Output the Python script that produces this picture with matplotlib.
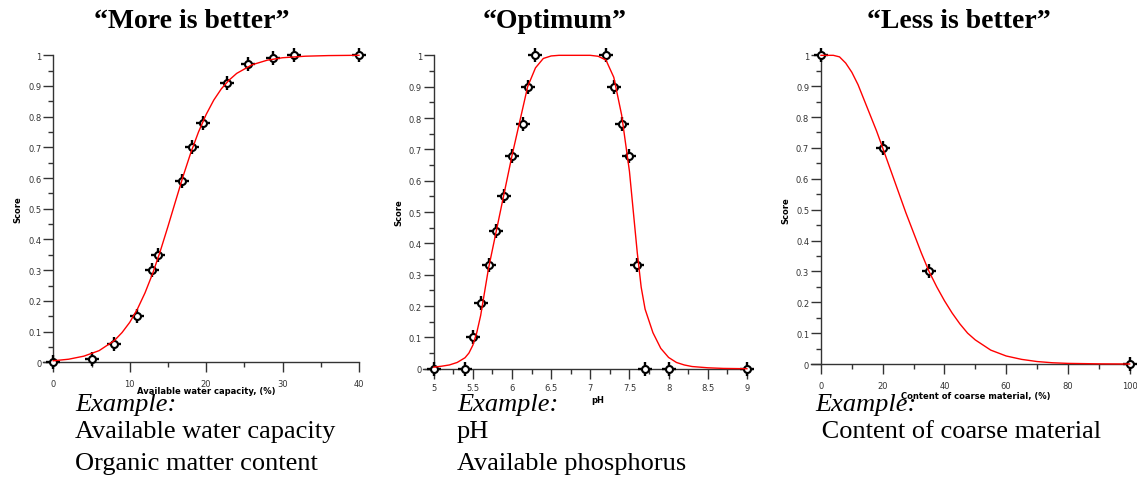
import matplotlib.pyplot as plt
from matplotlib.ticker import MultipleLocator, FuncFormatter

# "More is better" - available water capacity
awc_x = [0, 5.0, 8.0, 10.9, 12.9, 13.7, 16.8, 18.2, 19.6, 22.7, 25.5, 28.8, 31.5, 40]
awc_y = [0, 0.01, 0.06, 0.15, 0.30, 0.35, 0.59, 0.70, 0.78, 0.91, 0.97, 0.99, 1.0, 1.0]
awc_curve_x = [0, 2, 4, 6, 8, 9, 10, 11, 12, 13, 14, 15, 16, 17, 18, 19, 20,
               21, 22, 23, 24, 26, 28, 30, 33, 36, 40]
awc_curve_y = [0.005, 0.010, 0.020, 0.038, 0.071, 0.097, 0.130, 0.173, 0.226,
               0.289, 0.362, 0.442, 0.525, 0.607, 0.683, 0.750, 0.807, 0.854,
               0.891, 0.919, 0.941, 0.969, 0.984, 0.992, 0.997, 0.999, 1.0]

# "Optimum" - pH
ph_x = [5.0, 5.4, 5.5, 5.6, 5.7, 5.8, 5.9, 6.0, 6.14, 6.2, 6.3,
        7.2, 7.3, 7.4, 7.5, 7.6, 7.7, 8.0, 9.0]
ph_y = [0, 0, 0.10, 0.21, 0.33, 0.44, 0.55, 0.68, 0.78, 0.90, 1.0,
        1.0, 0.90, 0.78, 0.68, 0.33, 0, 0, 0]
ph_curve_x = [5.0, 5.1, 5.2, 5.3, 5.4, 5.45, 5.5, 5.55, 5.6, 5.65, 5.7, 5.8, 5.9,
              6.0, 6.1, 6.2, 6.3, 6.4, 6.5, 6.6, 7.0, 7.1, 7.2, 7.3, 7.4, 7.5,
              7.6, 7.65, 7.7, 7.8, 7.9, 8.0, 8.1, 8.2, 8.3, 8.5, 8.7, 9.0]
ph_curve_y = [0.005, 0.008, 0.012, 0.02, 0.035, 0.05, 0.075, 0.115, 0.17, 0.245,
              0.32, 0.44, 0.56, 0.68, 0.79, 0.90, 0.96, 0.99, 0.998, 1.0, 1.0,
              0.997, 0.985, 0.93, 0.81, 0.63, 0.37, 0.26, 0.19, 0.115, 0.065,
              0.036, 0.02, 0.012, 0.007, 0.003, 0.001, 0.0]

# "Less is better" - content of coarse material
coarse_x = [0, 20, 35, 100]
coarse_y = [1.0, 0.70, 0.30, 0]
coarse_curve_x = [0, 4, 6, 8, 10, 12, 15, 18, 20, 22.5, 25, 27.5, 30, 32.5, 35,
                  37.5, 40, 42.5, 45, 47.5, 50, 55, 60, 65, 70, 75, 80, 90, 100]
coarse_curve_y = [1.0, 1.0, 0.995, 0.975, 0.945, 0.905, 0.83, 0.755, 0.70, 0.63,
                  0.56, 0.49, 0.425, 0.36, 0.30, 0.25, 0.205, 0.165, 0.13, 0.10,
                  0.078, 0.045, 0.026, 0.015, 0.008, 0.004, 0.002, 0.0005, 0.0]

titles = ["\u201cMore is better\u201d", "\u201cOptimum\u201d", "\u201cLess is better\u201d"]
xlabels = ["Available water capacity, (%)", "pH", "Content of coarse material, (%)"]
examples = [["Available water capacity", "Organic matter content"],
            ["pH", "Available phosphorus"],
            [" Content of coarse material"]]

W, H = 1137, 502
fig = plt.figure(figsize=(W / 100, H / 100), dpi=100)


def fmt(v, pos):
    return "%g" % round(v, 3)


def panel(rect, xs, ys, cx, cy, xlim, x0, xmaj, xmin, xpad):
    ax = fig.add_axes(rect)
    ax.plot(cx, cy, color="red", lw=1.0, zorder=5, clip_on=False)
    ax.plot(xs, ys, ls="none", marker="+", ms=10, mew=1.7, color="black",
            zorder=4, clip_on=False)
    ax.plot(xs, ys, ls="none", marker="o", ms=5, mfc="white", mec="black",
            mew=1.5, zorder=4, clip_on=False)
    ax.set_xlim(*xlim)
    ax.set_ylim(0, 1)
    for s in ["top", "right"]:
        ax.spines[s].set_visible(False)
    ax.spines["left"].set_position(("data", x0))
    for s in ["left", "bottom"]:
        ax.spines[s].set_color("#333333")
        ax.spines[s].set_linewidth(1.0)
    ax.xaxis.set_major_locator(MultipleLocator(xmaj))
    ax.xaxis.set_minor_locator(MultipleLocator(xmin))
    ax.yaxis.set_major_locator(MultipleLocator(0.1))
    ax.yaxis.set_minor_locator(MultipleLocator(0.05))
    ax.xaxis.set_major_formatter(FuncFormatter(fmt))
    ax.yaxis.set_major_formatter(FuncFormatter(fmt))
    ax.tick_params(which="major", direction="out", length=7, width=1.0,
                   color="#333333", labelsize=6, labelcolor="#333333")
    ax.tick_params(which="minor", direction="out", length=3.5, width=1.0,
                   color="#333333")
    ax.tick_params(axis="x", which="major", pad=xpad)
    ax.tick_params(axis="y", which="major", pad=1.5)
    ax.set_ylabel("Score", fontsize=6, fontweight="bold", labelpad=4)
    return ax


a1 = panel([0.0378, 0.2763, 0.2779, 0.6116], awc_x, awc_y, awc_curve_x,
           awc_curve_y, (-1.35, 40), 0, 10, 5, 5)
a2 = panel([0.3720, 0.2635, 0.2891, 0.6243], ph_x, ph_y, ph_curve_x,
           ph_curve_y, (4.863, 9.061), 5, 0.5, 0.25, 3.5)
a3 = panel([0.7130, 0.2729, 0.2835, 0.6149], coarse_x, coarse_y,
           coarse_curve_x, coarse_curve_y, (-3.34, 101.1), 0, 20, 10, 5)

# axis titles under each panel (pixel positions)
xlabel_pos = [(206, 392), (598, 401), (976, 397)]
title_x = [192, 555, 959]
text_x = [75, 457, 815]
for i in range(3):
    fig.text(xlabel_pos[i][0] / W, 1 - xlabel_pos[i][1] / H, xlabels[i],
             ha="center", va="center", fontsize=6, fontweight="bold")
    fig.text(title_x[i] / W, 1 - 22 / H, titles[i], ha="center", va="center",
             family="Liberation Serif", fontweight="bold", fontsize=20)
    fig.text(text_x[i] / W, 1 - 405 / H, "Example:", ha="left", va="center",
             family="Liberation Serif", style="italic", fontsize=19)
    for j, line in enumerate(examples[i]):
        fig.text(text_x[i] / W, 1 - (432 + 32 * j) / H, line, ha="left",
                 va="center", family="Liberation Serif", fontsize=19)

fig.savefig("out.png", dpi=100)
